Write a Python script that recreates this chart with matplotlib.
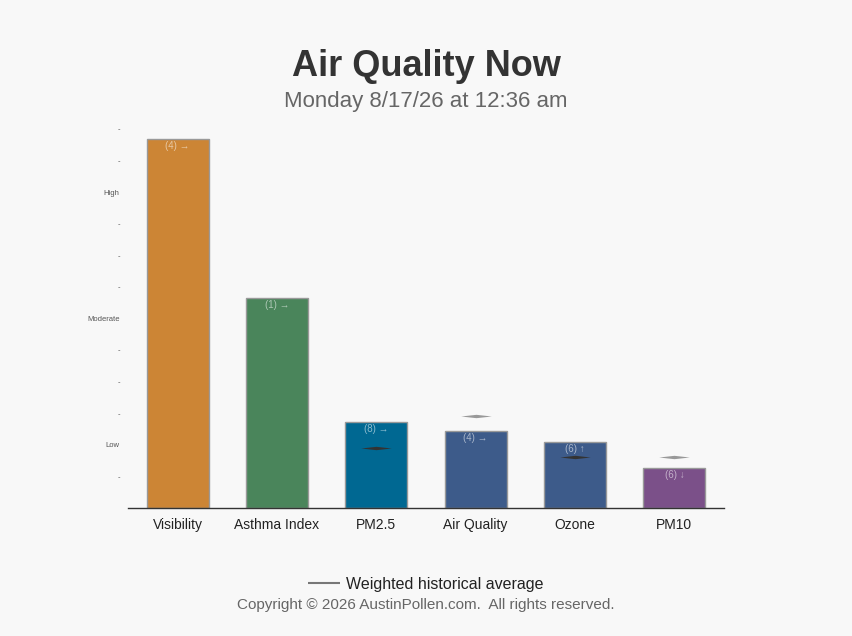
import matplotlib
matplotlib.use("Agg")
import matplotlib.pyplot as plt
from matplotlib.path import Path
import numpy as np

plt.rcParams['font.family'] = ['Liberation Sans', 'DejaVu Sans']

categories = ["Visibility", "Asthma Index", "PM2.5", "Air Quality", "Ozone", "PM10"]
values = [11.68, 6.65, 2.72, 2.44, 2.09, 1.27]
averages = [None, None, 1.90, 2.91, 1.61, 1.61]
bar_labels = ["(4) \u2192", "(1) \u2192", "(8) \u2192", "(4) \u2192", "(6) \u2191", "(6) \u2193"]
colors = ["#cc8535", "#4a855b", "#006892", "#3d5b8a", "#3d5b8a", "#7b5089"]
ytick_vals = list(range(0, 13))
ytick_text = {2: "Low", 6: "Moderate", 10: "High"}

bg = "#f8f8f8"
fig = plt.figure(figsize=(8.52, 6.36), dpi=100, facecolor=bg)
ax = fig.add_axes([128/852, 1-508/636, 596/852, 379/636])
ax.set_facecolor(bg)

x = np.arange(len(categories))
ax.bar(x, values, width=0.625, color=colors, edgecolor="#999999", linewidth=1.0, zorder=2)

for xi, v, lab in zip(x, values, bar_labels):
    ax.annotate(lab, (xi, v), xytext=(0, -1.5), textcoords="offset points",
                ha="center", va="top", fontsize=7, color=(1, 1, 1, 0.55), zorder=4)

lens = Path([(-1, 0), (0, 0.11), (1, 0), (0, -0.11), (-1, 0)],
            [Path.MOVETO, Path.LINETO, Path.LINETO, Path.LINETO, Path.CLOSEPOLY])
for xi, v, a in zip(x, values, averages):
    if a is None:
        continue
    c = "#333333" if a < v else "#999999"
    ax.plot([xi], [a], marker=lens, markersize=22, color=c, markeredgewidth=0, zorder=3)

ax.set_xlim(-0.5, len(categories) - 0.5)
ax.set_ylim(0, 12)
ax.set_yticks(ytick_vals[1:])
ax.set_yticklabels([ytick_text.get(t, "-") for t in ytick_vals[1:]], fontsize=5.5, color="#555555")
ax.tick_params(axis="y", length=0, pad=6)
ax.set_xticks(x)
ax.set_xticklabels(categories, fontsize=10, color="#222222")
ax.tick_params(axis="x", length=0, pad=7.5)
for s in ["top", "right", "left"]:
    ax.spines[s].set_visible(False)
ax.spines["bottom"].set_color("#333333")
ax.spines["bottom"].set_linewidth(1.0)

fig.text(0.5, 1-66/636, "Air Quality Now", ha="center", va="center", fontsize=26,
         fontweight="bold", color="#333333")
fig.text(0.5, 1-102/636, "Monday 8/17/26 at 12:36 am", ha="center", va="center",
         fontsize=16, color="#666666")

# legend
fig.lines.append(plt.Line2D([308/852, 340/852], [1-583/636, 1-583/636], transform=fig.transFigure,
                            color="#777777", linewidth=1.5, solid_capstyle="butt"))
fig.text(346/852, 1-585/636, "Weighted historical average", ha="left", va="center",
         fontsize=11.5, color="#222222")
fig.text(0.5, 1-605/636, "Copyright \u00a9 2026 AustinPollen.com.  All rights reserved.",
         ha="center", va="center", fontsize=11, color="#666666")

fig.savefig("out.png", dpi=100, facecolor=bg)
